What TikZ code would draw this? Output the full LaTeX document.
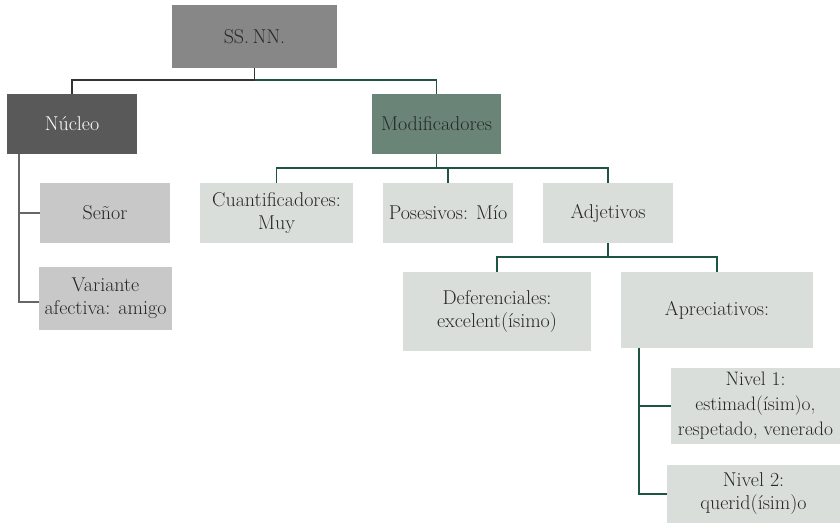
\documentclass[tikz,border=0pt]{standalone}
\usetikzlibrary{calc}
\definecolor{txt}{HTML}{262626}
\definecolor{ssfill}{HTML}{878787}
\definecolor{nucfill}{HTML}{595959}
\definecolor{modfill}{HTML}{6A8578}
\definecolor{lightfill}{HTML}{D9DEDB}
\definecolor{grayfill}{HTML}{C8C8C8}
\definecolor{lgreen}{HTML}{1E5444}
\definecolor{ldark}{HTML}{333333}
\definecolor{lgray}{HTML}{666666}
\begin{document}
\begin{tikzpicture}[x=1pt,y=-1pt,
  box/.style={rectangle, inner sep=0pt, align=center, text=txt,
    font=\fontsize{20}{23}\selectfont},
  dk/.style={draw=ldark, line width=1.6pt},
  gr/.style={draw=lgreen, line width=1.6pt},
  gy/.style={draw=lgray, line width=1.6pt}]
\path[fill=white] (0,0) rectangle (840,523);
\useasboundingbox (0,0) rectangle (840,523);

\node[box, fill=ssfill, minimum width=165pt, minimum height=63pt] (ss) at (254.5,36.5) {SS.\,NN.};
\node[box, fill=nucfill, text=white, minimum width=130pt, minimum height=60pt] (nuc) at (72,124) {Núcleo};
\node[box, fill=modfill, minimum width=129pt, minimum height=60pt] (mod) at (436.5,124) {Modificadores};
\node[box, fill=lightfill, minimum width=153pt, minimum height=60pt] (cuan) at (276.5,213) {Cuantificadores:\\Muy};
\node[box, fill=lightfill, minimum width=130pt, minimum height=60pt] (pos) at (448,213) {Posesivos: Mío};
\node[box, fill=lightfill, minimum width=130pt, minimum height=60pt] (adj) at (608,213) {Adjetivos};
\node[box, fill=grayfill, minimum width=130pt, minimum height=60pt] (senor) at (105,213) {Señor};
\node[box, fill=grayfill, minimum width=133pt, minimum height=63pt] (var) at (105.5,298.5) {Variante\\afectiva: amigo};
\node[box, fill=lightfill, minimum width=188pt, minimum height=79pt] (def) at (497,311.5) {Deferenciales:\\excelent(ísimo)};
\node[box, fill=lightfill, minimum width=192pt, minimum height=76pt] (apr) at (717,310) {Apreciativos:};
\node[box, fill=lightfill, minimum width=169pt, minimum height=76pt, font=\fontsize{19.5}{25}\selectfont] (n1) at (755.5,406) {Nivel 1:\\estimad(ísim)o,\\respetado, venerado};
\node[box, fill=lightfill, minimum width=173pt, minimum height=58pt] (n2) at (753.5,494) {Nivel 2:\\querid(ísim)o};

% top bus
\coordinate (b1) at (254.5,80);
\draw[gr] (b1) -| (mod.north);
\draw[dk] (ss.south) -- (b1) -| (nuc.north);

% modificadores bus
\coordinate (b2) at (436.5,168);
\draw[gr] (mod.south) -- (b2);
\draw[gr] (cuan.north) |- (b2) -| (adj.north);
\draw[gr] (b2 -| pos.north) -- (pos.north);

% adjetivos bus
\coordinate (b3) at (608,257);
\draw[gr] (adj.south) -- (b3);
\draw[gr] (def.north) |- (b3) -| (apr.north);

% apreciativos branch
\coordinate (av) at ($(apr.south west)+(18,0)$);
\draw[gr] (av) |- (n2.west);
\draw[gr] (av |- n1.west) -- (n1.west);

% nucleo branch
\coordinate (nv) at ($(nuc.south west)+(12,0)$);
\draw[gy] (nv) |- ($(var.west)+(0,3.5)$);
\draw[gy] (nv |- senor.west) -- (senor.west);
\end{tikzpicture}
\end{document}
